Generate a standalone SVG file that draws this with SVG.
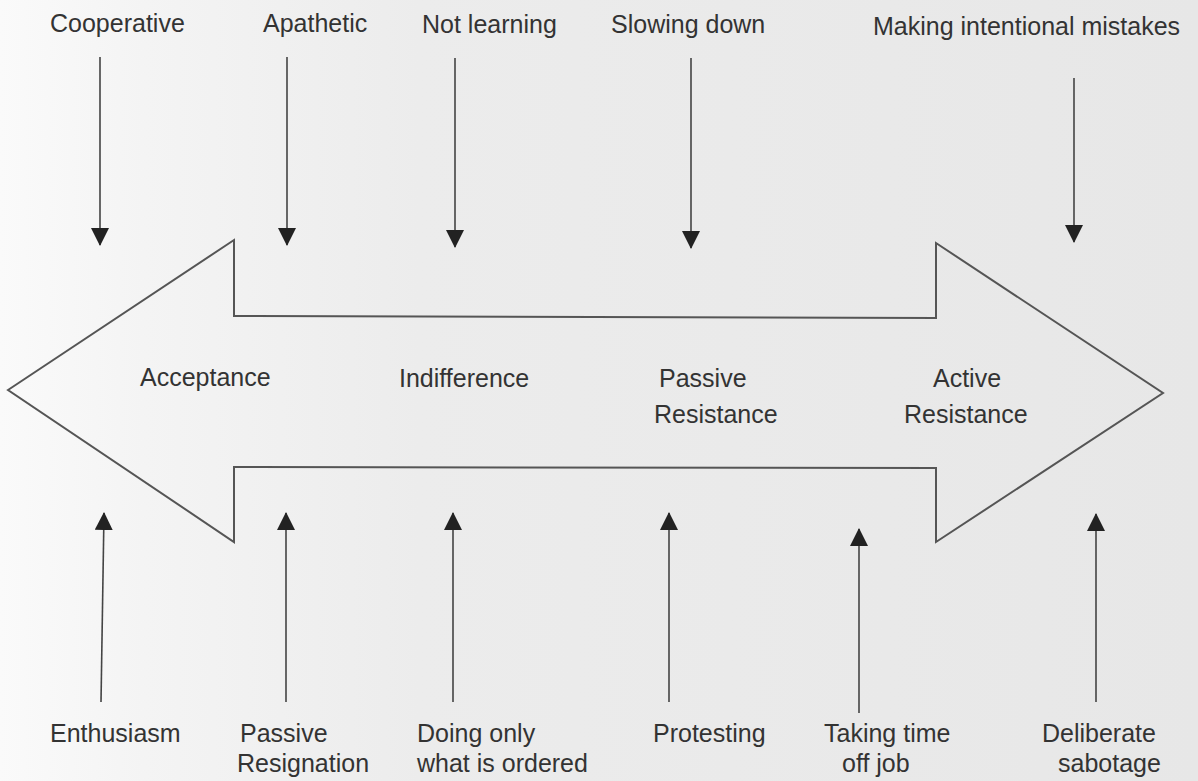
<svg xmlns="http://www.w3.org/2000/svg" width="1198" height="781" viewBox="0 0 1198 781">
  <defs>
    <linearGradient id="bg" x1="0" y1="0" x2="1" y2="0">
      <stop offset="0" stop-color="#fafafa"/>
      <stop offset="0.12" stop-color="#f4f4f4"/>
      <stop offset="0.35" stop-color="#ececec"/>
      <stop offset="1" stop-color="#e7e7e7"/>
    </linearGradient>
    <marker id="head" viewBox="0 0 18 18" refX="17" refY="9" markerWidth="18" markerHeight="18" markerUnits="userSpaceOnUse" orient="auto">
      <path d="M0,0 L18,9 L0,18 z" fill="#222"/>
    </marker>
    <style>
      text { font-family: "Liberation Sans", Arial, sans-serif; font-size: 25px; fill: #333; }
      .conn { stroke: #444; stroke-width: 1.6; fill: none; marker-end: url(#head); }
      .shape { fill: none; stroke: #555; stroke-width: 2; stroke-linejoin: miter; }
    </style>
  </defs>
  <rect x="0" y="0" width="1198" height="781" fill="url(#bg)"/>

  <g id="double-arrow">
    <polygon class="shape" points="8,390 234,240 234,316 936,318 936,243 1163,393 936,542 936,468 234,467 234,542"/>
  </g>

  <g id="stages">
    <g id="acceptance"><text x="140" y="386">Acceptance</text></g>
    <g id="indifference"><text x="399" y="387">Indifference</text></g>
    <g id="passive-resistance"><text x="659" y="387">Passive</text><text x="654" y="423">Resistance</text></g>
    <g id="active-resistance"><text x="933" y="387">Active</text><text x="904" y="423">Resistance</text></g>
  </g>

  <g id="top-labels">
    <g id="cooperative"><text x="50" y="32">Cooperative</text></g>
    <g id="apathetic"><text x="263" y="32">Apathetic</text></g>
    <g id="not-learning"><text x="422" y="33">Not learning</text></g>
    <g id="slowing-down"><text x="611" y="33">Slowing down</text></g>
    <g id="making-mistakes"><text x="873" y="35">Making intentional mistakes</text></g>
  </g>

  <g id="bottom-labels">
    <g id="enthusiasm"><text x="50" y="742">Enthusiasm</text></g>
    <g id="passive-resignation"><text x="240" y="742">Passive</text><text x="237" y="772">Resignation</text></g>
    <g id="doing-only"><text x="417" y="742">Doing only</text><text x="417" y="772">what is ordered</text></g>
    <g id="protesting"><text x="653" y="742">Protesting</text></g>
    <g id="taking-time-off"><text x="824" y="742">Taking time</text><text x="842" y="772">off job</text></g>
    <g id="deliberate-sabotage"><text x="1042" y="742">Deliberate</text><text x="1058" y="772">sabotage</text></g>
  </g>

  <g id="connectors">
    <line class="conn" x1="100" y1="57" x2="100" y2="245"/>
    <line class="conn" x1="287" y1="57" x2="287" y2="245"/>
    <line class="conn" x1="455" y1="58" x2="455" y2="247"/>
    <line class="conn" x1="691" y1="58" x2="691" y2="248"/>
    <line class="conn" x1="1074" y1="78" x2="1074" y2="242"/>
    <line class="conn" x1="101" y1="702" x2="104" y2="513"/>
    <line class="conn" x1="286" y1="702" x2="286" y2="513"/>
    <line class="conn" x1="453" y1="702" x2="453" y2="513"/>
    <line class="conn" x1="669" y1="702" x2="669" y2="513"/>
    <line class="conn" x1="859" y1="713" x2="859" y2="529"/>
    <line class="conn" x1="1096" y1="702" x2="1096" y2="514"/>
  </g>
</svg>
